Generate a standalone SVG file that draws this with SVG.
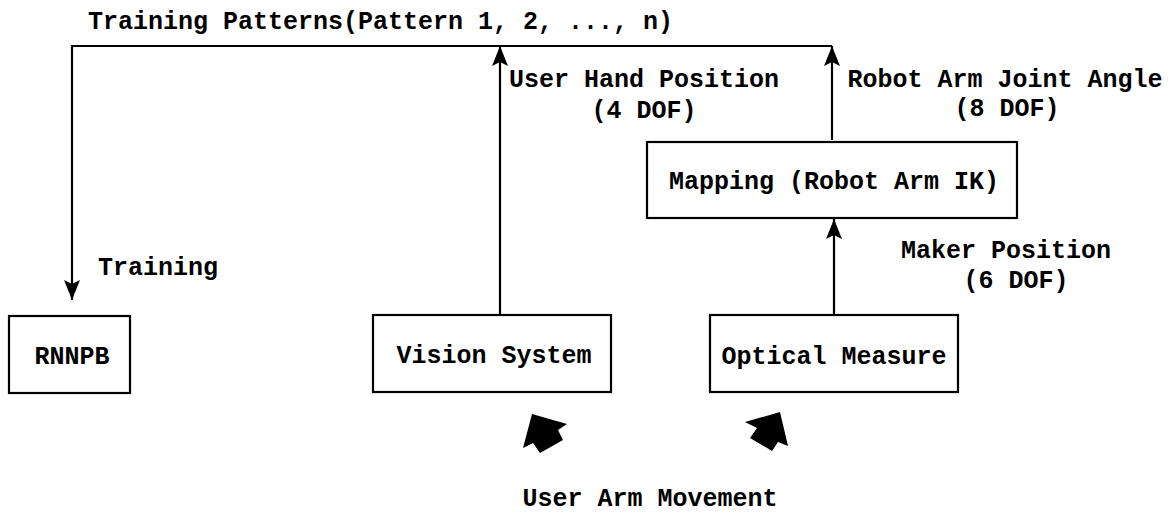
<svg xmlns="http://www.w3.org/2000/svg" width="1174" height="513" viewBox="0 0 1174 513">
  <style>
    text { font-family: "Liberation Mono", "Courier New", monospace; font-weight: bold; font-size: 25px; fill: #000; }
    .box { fill: #fff; stroke: #000; stroke-width: 2.2; }
    .conn { fill: none; stroke: #000; stroke-width: 2.2; }
    .mid { text-anchor: middle; }
  </style>
  <defs>
    <marker id="arr" viewBox="0 0 20 16" refX="20" refY="8" markerWidth="20" markerHeight="16" markerUnits="userSpaceOnUse" orient="auto">
      <path d="M0,0 L20,8 L0,16 L4,8 Z" fill="#000"/>
    </marker>
  </defs>

  <g id="connectors">
    <path class="conn" d="M832,46 H72 V300" marker-end="url(#arr)"/>
    <path class="conn" d="M500,315 V46" marker-end="url(#arr)"/>
    <path class="conn" d="M832,140 V46" marker-end="url(#arr)"/>
    <path class="conn" d="M834,315 V219" marker-end="url(#arr)"/>
    <polygon points="532,414 567,424 558,430 563,440 540,453 533,443 523,448" fill="#000"/>
    <polygon points="780,412 745,422 757,428 750,438 772,451 778,442 788,446" fill="#000"/>
  </g>

  <g id="labels">
    <text x="88" y="29">Training Patterns(Pattern 1, 2, ..., n)</text>
    <text x="644" y="87" class="mid">User Hand Position</text>
    <text x="644" y="118" class="mid">(4 DOF)</text>
    <text x="1005" y="87" class="mid">Robot Arm Joint Angle</text>
    <text x="1007" y="116" class="mid">(8 DOF)</text>
    <text x="1006" y="258" class="mid">Maker Position</text>
    <text x="1016" y="288" class="mid">(6 DOF)</text>
    <text x="98" y="275">Training</text>
    <text x="650" y="506" class="mid">User Arm Movement</text>
  </g>

  <g id="node-rnnpb">
    <rect class="box" x="9" y="316" width="121" height="77"/>
    <text x="72" y="364" class="mid">RNNPB</text>
  </g>
  <g id="node-vision">
    <rect class="box" x="373" y="315" width="238" height="77"/>
    <text x="494" y="363" class="mid">Vision System</text>
  </g>
  <g id="node-optical">
    <rect class="box" x="710" y="315" width="248" height="77"/>
    <text x="834" y="364" class="mid">Optical Measure</text>
  </g>
  <g id="node-mapping">
    <rect class="box" x="647" y="142" width="370" height="76"/>
    <text x="834" y="189" class="mid">Mapping (Robot Arm IK)</text>
  </g>
</svg>
